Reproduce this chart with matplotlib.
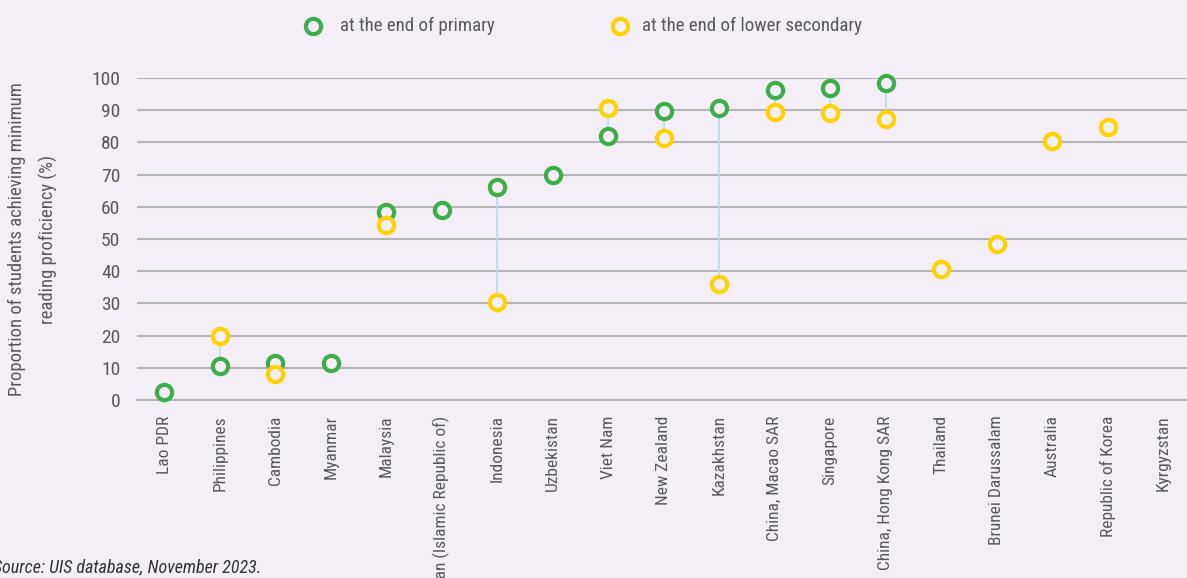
import matplotlib.pyplot as plt
from matplotlib import font_manager

# pick a narrow font if there is one
names = set(f.name for f in font_manager.fontManager.ttflist)
fuente = 'DejaVu Sans'
for cand in ['Liberation Sans Narrow', 'DejaVu Sans Condensed', 'Roboto Condensed', 'Open Sans Condensed']:
    if cand in names:
        fuente = cand
        break
print('font:', fuente)
plt.rcParams['font.family'] = [fuente, 'DejaVu Sans']

paises = ['Lao PDR', 'Philippines', 'Cambodia', 'Myanmar', 'Malaysia',
          'Iran (Islamic Republic of)', 'Indonesia', 'Uzbekistan', 'Viet Nam',
          'New Zealand', 'Kazakhstan', 'China, Macao SAR', 'Singapore',
          'China, Hong Kong SAR', 'Thailand', 'Brunei Darussalam', 'Australia',
          'Republic of Korea', 'Kyrgyzstan']
primaria = [2.6, 10.6, 11.5, 11.5, 58.4, 59, 66, 70, 82, 89.9, 90.8, 96.2, 97, 98.5,
            None, None, None, None, None]
secundaria = [None, 20, 8, None, 54.3, None, 30.4, None, 90.8, 81.3, 36, 89.4, 89, 87.4,
              40.6, 48.4, 80.3, 84.9, None]

fondo = '#f4eef6'
verde = '#3dae49'
amarillo = '#ffd200'
gris = '#58585a'

fig = plt.figure(figsize=(11.87, 5.78), dpi=100, facecolor=fondo)
ax = fig.add_axes([137/1187, 1-400/578, 1050/1187, 322/578])
ax.set_facecolor(fondo)

x = list(range(len(paises)))
# lineas entre los dos puntos
for i in x:
    if primaria[i] is not None and secundaria[i] is not None:
        ax.plot([i, i], [primaria[i], secundaria[i]], color='#b3def2', lw=1.2, zorder=2)

xp = [i for i in x if primaria[i] is not None]
yp = [primaria[i] for i in xp]
xs = [i for i in x if secundaria[i] is not None]
ys = [secundaria[i] for i in xs]
ax.plot(xp, yp, 'o', ms=11, mfc=fondo, mec=verde, mew=3, zorder=3, clip_on=False)
ax.plot(xs, ys, 'o', ms=11, mfc=fondo, mec=amarillo, mew=3, zorder=3, clip_on=False)

ax.set_xlim(-0.49, 18.43)
ax.set_ylim(0, 100)
ax.set_yticks(range(0, 101, 10))
ax.yaxis.grid(True, color='#b4b4b6', lw=1.5)
ax.set_axisbelow(True)
for s in ['top', 'right', 'left']:
    ax.spines[s].set_visible(False)
ax.spines['bottom'].set_color('#b4b4b6')
ax.spines['bottom'].set_linewidth(1.5)
ax.set_xticks(x)
ax.set_xticklabels(paises, rotation=90, color=gris)
ax.tick_params(axis='both', length=0, colors=gris)
ax.tick_params(axis='y', pad=12, labelsize=14)
ax.tick_params(axis='x', pad=11, labelsize=12.5)
ax.set_ylabel('Proportion of students achieving minimum\nreading proficiency (%)',
              fontsize=13.4, color=gris, labelpad=24, linespacing=1.85)

# leyenda arriba
fig.lines.append(plt.Line2D([313/1187], [1-26/578], marker='o', ms=11, mfc=fondo,
                            mec=verde, mew=3, transform=fig.transFigure))
fig.lines.append(plt.Line2D([620/1187], [1-26/578], marker='o', ms=11, mfc=fondo,
                            mec=amarillo, mew=3, transform=fig.transFigure))
fig.text(340/1187, 1-26/578, 'at the end of primary', fontsize=13.6, color=gris, va='center')
fig.text(642/1187, 1-26/578, 'at the end of lower secondary', fontsize=13.6, color=gris, va='center')

fig.text(-7/1187, 1-567/578, 'Source: UIS database, November 2023.', fontsize=13,
         style='italic', color='#333333', va='center')

fig.savefig('out.png', dpi=100, facecolor=fondo)
